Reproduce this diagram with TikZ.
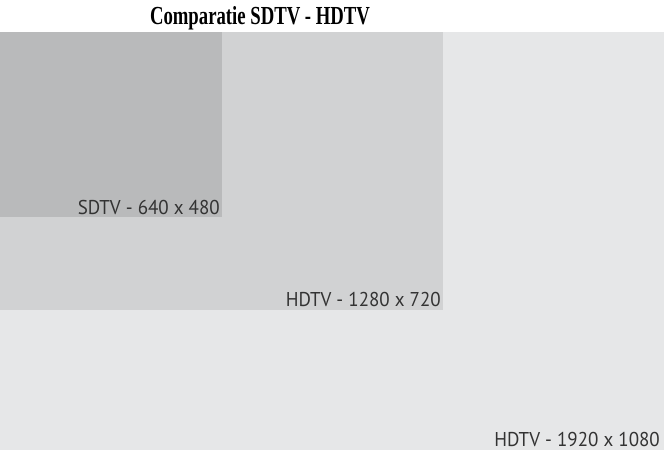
\documentclass[tikz,border=0pt]{standalone}
\usepackage{fontspec}
\setmainfont{Liberation Serif}
\newfontfamily\labfont{PT Sans}
\definecolor{sdcol}{HTML}{B9BABB}
\definecolor{hdcol}{HTML}{D1D2D3}
\definecolor{fhdcol}{HTML}{E6E7E8}
\begin{document}
\begin{tikzpicture}[x=1pt,y=-1pt,
  lab/.style={anchor=base east,inner sep=0pt,font=\labfont\fontsize{20}{20}\selectfont,text=black!80,xscale=0.95},
  ttl/.style={anchor=base,inner sep=0pt,font=\bfseries\fontsize{26}{26}\selectfont,xscale=0.72}]
\useasboundingbox (0,0) rectangle (664,450);
\fill[white] (0,0) rectangle (664,450);
\fill[fhdcol] (0,32) rectangle (664,450);
\fill[hdcol] (0,32) rectangle (443,310);
\fill[sdcol] (0,32) rectangle (222,217);
\node[ttl] (title) at (260,24) {Comparatie SDTV - HDTV};
\node[lab] (sd) at (220,214) {SDTV - 640 x 480};
\node[lab] (hd) at (441,306) {HDTV - 1280 x 720};
\node[lab] (fhd) at (660,446) {HDTV - 1920 x 1080};
\end{tikzpicture}
\end{document}
